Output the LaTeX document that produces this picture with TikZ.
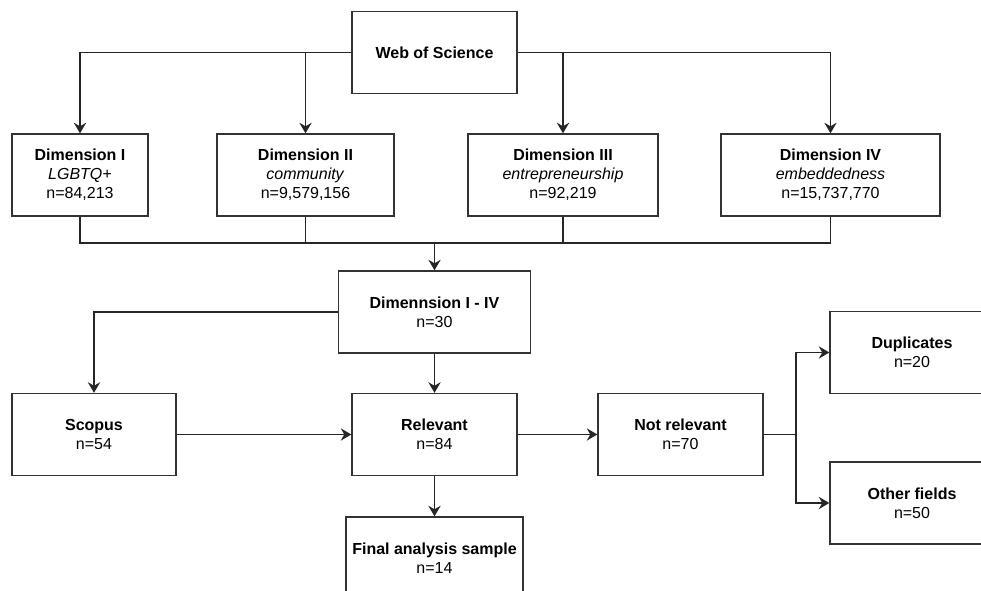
\documentclass[tikz,border=0pt]{standalone}
\usepackage{fontspec}
\setmainfont{Liberation Sans}
\usepackage{tikz}
\usetikzlibrary{arrows.meta,positioning,calc}

\begin{document}
\begin{tikzpicture}[
  x=0.02cm, y=-0.02cm,
  box/.style={rectangle, draw=black!80, line width=0.8pt, align=center,
              minimum height=1.64cm, inner sep=2pt,
              font=\fontsize{9.1}{10.8}\selectfont},
  arr/.style={-{Stealth[length=6pt,width=7pt,inset=2pt]}, line width=0.8pt, black!85},
  ln/.style={line width=0.8pt, black!85}
]
  % frame of the figure (boxes at the right and bottom edge are cut)
  \clip (0,0) rectangle (981,591);
  \fill[white] (0,0) rectangle (981,591);

  % sources
  \node[box, minimum width=3.3cm] (wos) at (434.5,52.5) {\textbf{Web of Science}};

  % the four search dimensions
  \node[box, minimum width=2.72cm] (dimA) at (80,175)
    {\textbf{Dimension I}\\\textit{LGBTQ+}\\n=84,213};
  \node[box, minimum width=3.54cm] (dimB) at (305.5,175)
    {\textbf{Dimension II}\\\textit{community}\\n=9,579,156};
  \node[box, minimum width=3.8cm] (dimC) at (563,175)
    {\textbf{Dimension III}\\\textit{entrepreneurship}\\n=92,219};
  \node[box, minimum width=4.38cm] (dimD) at (830.5,175)
    {\textbf{Dimension IV}\\\textit{embeddedness}\\n=15,737,770};

  % screening
  \node[box, minimum width=3.84cm] (dimAll) at (434.5,312)
    {\textbf{Dimennsion I - IV}\\n=30};
  \node[box, minimum width=3.28cm] (scopus) at (94,434.5)
    {\textbf{Scopus}\\n=54};
  \node[box, minimum width=3.3cm] (rel) at (434.5,434.5)
    {\textbf{Relevant}\\n=84};
  \node[box, minimum width=3.3cm] (notrel) at (680.5,434.5)
    {\textbf{Not relevant}\\n=70};
  \node[box, minimum width=3.28cm] (dup) at (912,352.5)
    {\textbf{Duplicates}\\n=20};
  \node[box, minimum width=3.28cm] (other) at (912,503)
    {\textbf{Other fields}\\n=50};
  \node[box, minimum width=3.54cm] (final) at (434.5,558)
    {\textbf{Final analysis sample}\\n=14};

  % connectors
  \draw[arr] (wos.west) -| (dimA.north);
  \draw[arr] (wos.west -| dimB.north) -- (dimB.north);
  \draw[arr] (wos.east) -| (dimD.north);
  \draw[arr] (wos.east -| dimC.north) -- (dimC.north);

  \coordinate (merge) at (434.5,243);
  \draw[ln] (dimA.south) |- (merge -| dimD.south) -- (dimD.south);
  \draw[ln] (dimB.south) -- (dimB.south |- merge);
  \draw[ln] (dimC.south) -- (dimC.south |- merge);
  \draw[arr] (merge) -- (dimAll.north);

  \draw[arr] (dimAll.west) -| (scopus.north);
  \draw[arr] (dimAll.south) -- (rel.north);
  \draw[arr] (scopus.east) -- (rel.west);
  \draw[arr] (rel.east) -- (notrel.west);
  \draw[arr] (rel.south) -- (final.north);

  \coordinate (split) at (796,434.5);
  \draw[ln] (notrel.east) -- (split);
  \draw[arr] (split) |- (dup.west);
  \draw[arr] (split) |- (other.west);
\end{tikzpicture}
\end{document}
